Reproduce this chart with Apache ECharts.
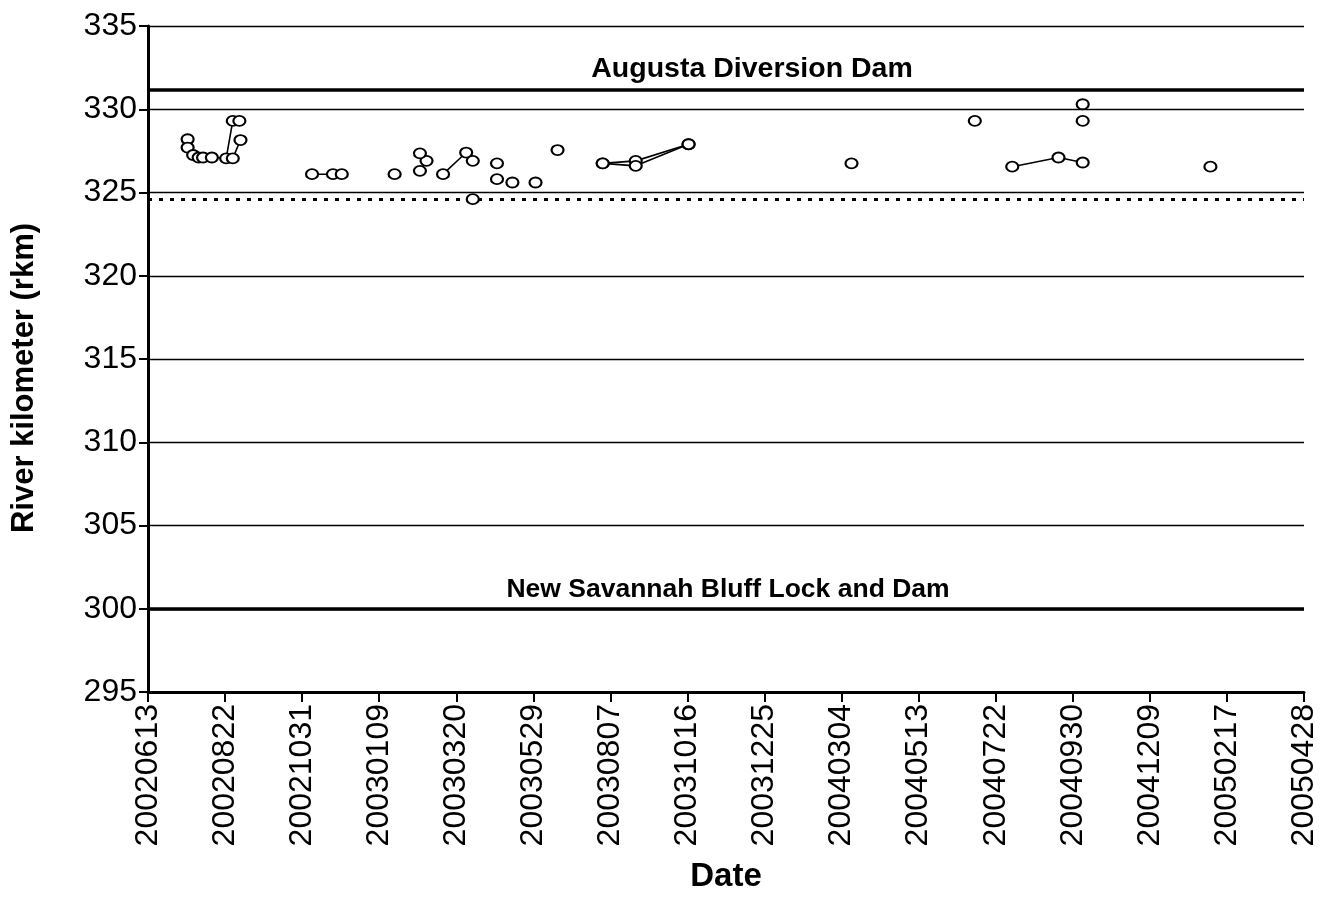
<!DOCTYPE html>
<html>
<head>
<meta charset="utf-8">
<title>River kilometer by date</title>
<script src="https://cdn.jsdelivr.net/npm/echarts@6/dist/echarts.min.js"></script>
<style>
  html, body { margin: 0; padding: 0; background: #fff; }
  #chart { width: 1320px; height: 903px; }
</style>
</head>
<body>
<div id="chart"></div>
<script>
// Axis tick labels (every 70 days from the start date)
const tickLabels = ['20020613', '20020822', '20021031', '20030109', '20030320', '20030529',
  '20030807', '20031016', '20031225', '20040304', '20040513', '20040722', '20040930',
  '20041209', '20050217', '20050428'];

// Connected detection tracks (date, river km)
const trackADates = ['20020719', '20020719', '20020724', '20020729', '20020802', '20020810', '20020823', '20020829', '20020904'];
const trackAKm = [328.2, 327.7, 327.25, 327.1, 327.1, 327.1, 327.05, 329.3, 329.3];

const trackBDates = ['20020829', '20020905'];
const trackBKm = [327.05, 328.15];

const trackCDates = ['20021109', '20021128', '20021206'];
const trackCKm = [326.1, 326.1, 326.1];

const trackDDates = ['20030215', '20030221'];
const trackDKm = [326.3, 326.9];

const trackEDates = ['20030308', '20030329', '20030404'];
const trackEKm = [326.1, 327.4, 326.9];

const trackFDates = ['20030731', '20030830', '20031017'];
const trackFKm = [326.75, 326.9, 327.9];

const trackGDates = ['20030731', '20030830', '20031017'];
const trackGKm = [326.75, 326.6, 327.9];

const trackHDates = ['20040806', '20040917', '20041009'];
const trackHKm = [326.55, 327.1, 326.8];

// Single detections
const singleDates = ['20030123', '20030215', '20030404', '20030426', '20030426', '20030510',
  '20030531', '20030620', '20040313', '20040703', '20041009', '20041009', '20050202'];
const singleKm = [326.1, 327.35, 324.6, 326.75, 325.8, 325.6,
  325.6, 327.55, 326.75, 329.3, 330.3, 329.3, 326.55];

// Reference river kilometers
const augustaDamKm = 331.2;
const savannahBluffKm = 300;
const dottedRefKm = 324.6;

const startUTC = Date.UTC(2002, 5, 13);
function dayOffset(s) {
  const y = +s.slice(0, 4), m = +s.slice(4, 6), d = +s.slice(6, 8);
  return Math.round((Date.UTC(y, m - 1, d) - startUTC) / 86400000);
}
function pairs(dates, km) {
  return dates.map((d, i) => [dayOffset(d), km[i]]);
}

const FONT = 'Liberation Sans, Arial, sans-serif';
const markerStyle = { color: '#fff', borderColor: '#000', borderWidth: 2, opacity: 1 };
const markerSize = [12, 10];

const tracks = [
  [trackADates, trackAKm], [trackBDates, trackBKm], [trackCDates, trackCKm],
  [trackDDates, trackDKm], [trackEDates, trackEKm], [trackFDates, trackFKm],
  [trackGDates, trackGKm], [trackHDates, trackHKm]
];

const series = tracks.map(([d, k]) => ({
  type: 'line',
  data: pairs(d, k),
  symbol: 'circle',
  symbolSize: markerSize,
  showAllSymbol: true,
  lineStyle: { color: '#000', width: 1.6 },
  itemStyle: markerStyle,
  z: 5,
  animation: false
}));

series.push({
  type: 'scatter',
  data: pairs(singleDates, singleKm),
  symbol: 'circle',
  symbolSize: markerSize,
  itemStyle: markerStyle,
  z: 6,
  animation: false
});

// Reference lines drawn as mark lines
series.push({
  type: 'line',
  data: [],
  animation: false,
  markLine: {
    silent: true,
    symbol: 'none',
    animation: false,
    data: [
      {
        yAxis: augustaDamKm,
        lineStyle: { color: '#000', width: 3.5, type: 'solid' },
        label: {
          show: true, position: 'middle', formatter: 'Augusta Diversion Dam',
          color: '#000', fontFamily: FONT, fontWeight: 'bold', fontSize: 28.5,
          distance: 6, offset: [26, 0]
        }
      },
      {
        yAxis: savannahBluffKm,
        lineStyle: { color: '#000', width: 3.5, type: 'solid' },
        label: {
          show: true, position: 'middle', formatter: 'New Savannah Bluff Lock and Dam',
          color: '#000', fontFamily: FONT, fontWeight: 'bold', fontSize: 26.5,
          distance: 6, offset: [2, 0]
        }
      },
      {
        yAxis: dottedRefKm,
        lineStyle: { color: '#000', width: 3, type: [4, 7] },
        label: { show: false }
      }
    ]
  }
});

const chart = echarts.init(document.getElementById('chart'), null, { renderer: 'canvas' });
chart.setOption({
  backgroundColor: '#fff',
  animation: false,
  grid: { left: 148, right: 15, top: 26, bottom: 211, containLabel: false },
  xAxis: {
    type: 'value',
    min: 0, max: 1050, interval: 70,
    name: 'Date',
    nameLocation: 'middle',
    nameGap: 168,
    nameMoveOverlap: false,
    nameTextStyle: { color: '#000', fontFamily: FONT, fontWeight: 'bold', fontSize: 33 },
    axisLine: { show: true, onZero: false, lineStyle: { color: '#000', width: 3 } },
    axisTick: { show: true, inside: false, length: 10, lineStyle: { color: '#000', width: 2 } },
    axisLabel: {
      rotate: 90, margin: 12, color: '#000', fontFamily: FONT, fontSize: 32,
      formatter: v => tickLabels[Math.round(v / 70)] || ''
    },
    splitLine: { show: false }
  },
  yAxis: {
    type: 'value',
    min: 295, max: 335, interval: 5,
    name: 'River kilometer (rkm)',
    nameLocation: 'middle',
    nameGap: 108,
    nameMoveOverlap: false,
    nameTextStyle: {
      color: '#000', fontFamily: FONT, fontWeight: 'bold', fontSize: 31,
      padding: [0, 38, 0, 0]
    },
    axisLine: { show: true, onZero: false, lineStyle: { color: '#000', width: 3 } },
    axisTick: { show: true, inside: false, length: 9, lineStyle: { color: '#000', width: 2 } },
    axisLabel: { margin: 11, color: '#000', fontFamily: FONT, fontSize: 32 },
    splitLine: { show: true, lineStyle: { color: '#000', width: 1.3 } }
  },
  series: series
});
</script>
</body>
</html>
